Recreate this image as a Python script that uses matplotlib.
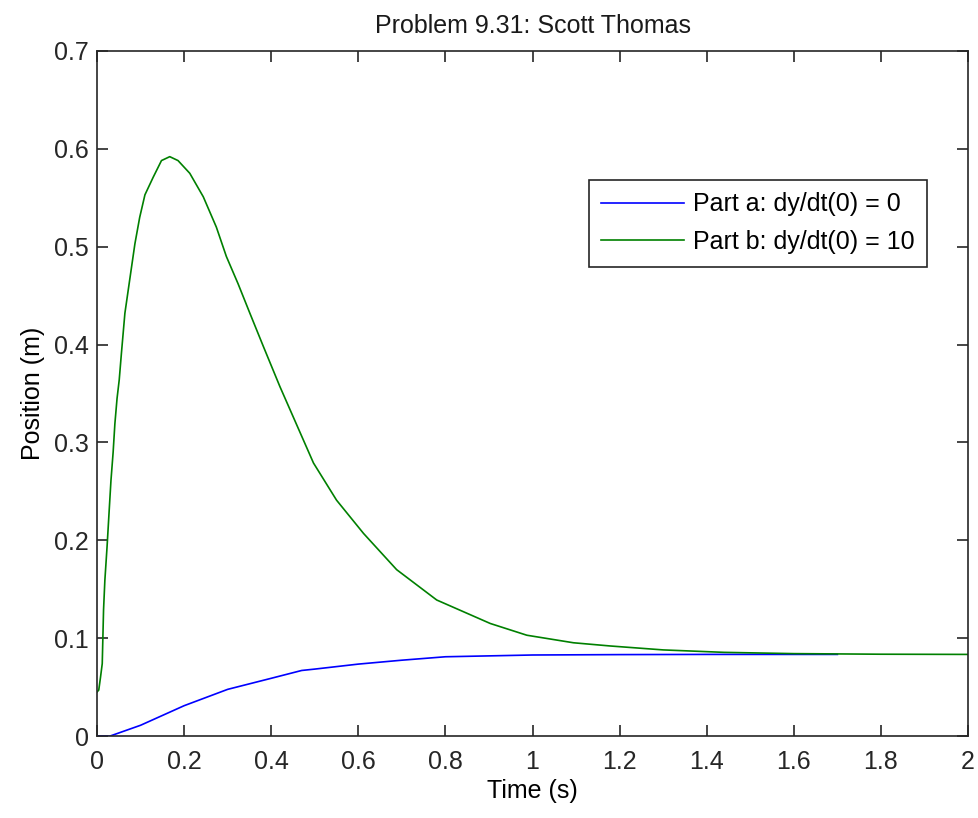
"""Position response for problem 9.31, two initial velocities."""

import matplotlib.pyplot as plt

# values
t_a = [0.0, 0.03, 0.1, 0.2, 0.3, 0.4, 0.47, 0.5, 0.6, 0.7, 0.8, 1.0, 1.2, 1.4, 1.7]
y_a = [0.0, 0.0, 0.011, 0.031, 0.0477, 0.059, 0.067, 0.0684, 0.0735, 0.0775,
       0.081, 0.0828, 0.0832, 0.0834, 0.0834]

t_b = [0.0, 0.004, 0.008, 0.012, 0.015, 0.018, 0.023, 0.028, 0.032, 0.037, 0.041,
       0.046, 0.051, 0.056, 0.064, 0.075, 0.087, 0.098, 0.110, 0.129, 0.148,
       0.167, 0.186, 0.213, 0.244, 0.274, 0.297, 0.324, 0.351, 0.382, 0.420,
       0.497, 0.550, 0.612, 0.688, 0.780, 0.903, 0.987, 1.094, 1.179, 1.3,
       1.44, 1.6, 1.8, 2.0]
y_b = [0.045, 0.047, 0.060, 0.074, 0.129, 0.159, 0.193, 0.231, 0.261, 0.290, 0.319,
       0.345, 0.364, 0.391, 0.432, 0.466, 0.503, 0.530, 0.553, 0.571, 0.588,
       0.592, 0.588, 0.575, 0.551, 0.520, 0.490, 0.462, 0.432, 0.398, 0.357,
       0.279, 0.241, 0.207, 0.170, 0.139, 0.115, 0.103, 0.0953, 0.092, 0.088,
       0.0855, 0.0842, 0.0836, 0.0834]

labels = ["Part a: dy/dt(0) = 0", "Part b: dy/dt(0) = 10"]
x_ticks = [0, 0.2, 0.4, 0.6, 0.8, 1, 1.2, 1.4, 1.6, 1.8, 2]
y_ticks = [0, 0.1, 0.2, 0.3, 0.4, 0.5, 0.6, 0.7]

plt.rcParams["font.family"] = ["Liberation Sans", "DejaVu Sans"]

fig = plt.figure(figsize=(9.79, 8.18), dpi=100)
ax = fig.add_axes([0.0991, 0.1002, 0.8897, 0.8375])

ax.plot(t_a, y_a, color=(0, 0, 1), linewidth=1.2, label=labels[0])
ax.plot(t_b, y_b, color=(0, 0.5, 0), linewidth=1.2, label=labels[1])

ax.set_xlim(0, 2)
ax.set_ylim(0, 0.7)
ax.set_xticks(x_ticks)
ax.set_xticklabels([f"{v:g}" for v in x_ticks])
ax.set_yticks(y_ticks)
ax.set_yticklabels([f"{v:g}" for v in y_ticks])
ax.tick_params(direction="in", length=8, width=1.2, labelsize=18,
               top=True, right=True, colors="#262626", pad=6)
ax.tick_params(axis="x", pad=10)
for spine in ax.spines.values():
    spine.set_linewidth(1.2)
    spine.set_color("#262626")

ax.set_title("Problem 9.31: Scott Thomas", fontsize=18, pad=13, color="#1a1a1a")
ax.set_xlabel("Time (s)", fontsize=18, labelpad=4)
ax.set_ylabel("Position (m)", fontsize=18, labelpad=6)

leg = ax.legend(loc="upper right", bbox_to_anchor=(0.9526, 0.8117),
                borderaxespad=0, fancybox=False, framealpha=1,
                edgecolor="#262626", fontsize=18, handlelength=3.3,
                handletextpad=0.35, labelspacing=0.55, borderpad=0.5)
leg.get_frame().set_linewidth(1.2)

fig.savefig("out.png", dpi=100)
